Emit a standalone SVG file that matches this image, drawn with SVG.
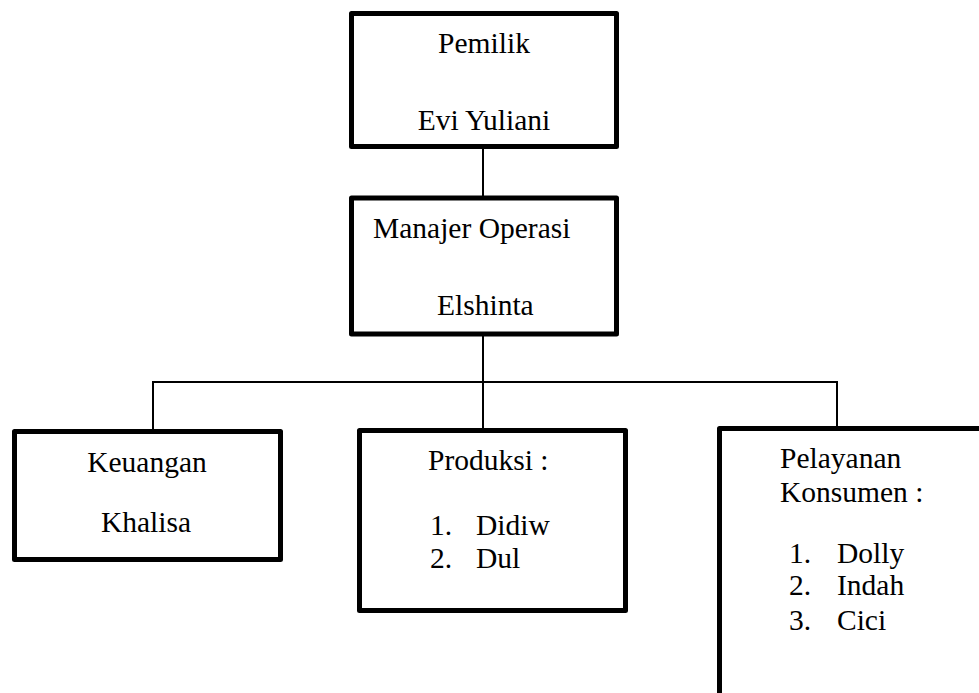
<svg xmlns="http://www.w3.org/2000/svg" width="979" height="693" viewBox="0 0 979 693">
<style>
.box{fill:#fff;stroke:#000;stroke-width:5;stroke-linejoin:round}
.ln{stroke:#000;stroke-width:2;fill:none}
.t{font-family:'Times New Roman','Liberation Serif','DejaVu Serif',serif;font-size:29.5px;fill:#000}
</style>
<rect width="979" height="693" fill="#fff"/>
<g id="connectors">
<line class="ln" x1="483" y1="149" x2="483" y2="196"/>
<line class="ln" x1="483" y1="336" x2="483" y2="429"/>
<line class="ln" x1="152" y1="382" x2="838" y2="382"/>
<line class="ln" x1="153" y1="381" x2="153" y2="430"/>
<line class="ln" x1="837" y1="381" x2="837" y2="427"/>
</g>
<g id="pemilik" class="t">
<rect class="box" x="351.5" y="13.5" width="265" height="133"/>
<text x="484" y="53" text-anchor="middle">Pemilik</text>
<text x="484" y="130" text-anchor="middle">Evi Yuliani</text>
</g>
<g id="manajer" class="t">
<rect class="box" x="351.5" y="198" width="265" height="136"/>
<text x="373" y="238">Manajer Operasi</text>
<text x="437" y="315">Elshinta</text>
</g>
<g id="keuangan" class="t">
<rect class="box" x="14.5" y="431.5" width="266" height="128"/>
<text x="147" y="472" text-anchor="middle">Keuangan</text>
<text x="146" y="532" text-anchor="middle">Khalisa</text>
</g>
<g id="produksi" class="t">
<rect class="box" x="359.5" y="430.5" width="266" height="180"/>
<text x="428" y="470">Produksi :</text>
<text x="430" y="535">1.</text>
<text x="476" y="535">Didiw</text>
<text x="430" y="568">2.</text>
<text x="476" y="568">Dul</text>
</g>
<g id="pelayanan" class="t">
<rect class="box" x="719.5" y="428.5" width="300" height="300"/>
<text x="780" y="468">Pelayanan</text>
<text x="780" y="502">Konsumen :</text>
<text x="789" y="563">1.</text>
<text x="837" y="563">Dolly</text>
<text x="789" y="595">2.</text>
<text x="837" y="595">Indah</text>
<text x="789" y="630">3.</text>
<text x="837" y="630">Cici</text>
</g>
</svg>
